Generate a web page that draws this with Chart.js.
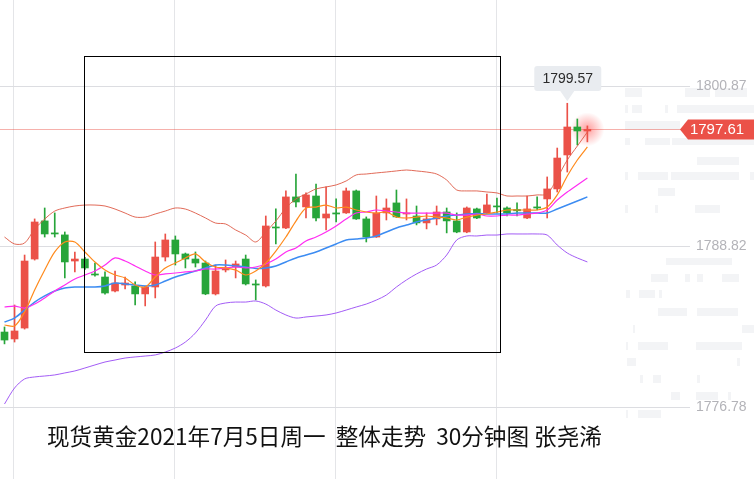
<!DOCTYPE html>
<html>
<head>
<meta charset="utf-8">
<script src="https://cdn.jsdelivr.net/npm/chart.js@4.4.1/dist/chart.umd.min.js"></script>
<style>
  html, body { margin: 0; padding: 0; background: #fff; }
  #wrap { position: relative; width: 754px; height: 479px; }
</style>
</head>
<body>
<div id="wrap"><canvas id="klineChart"></canvas></div>
<script>
// 30-minute gold candles
const opens  = [1782.40,1781.88,1782.70,1787.88,1790.74,1789.84,1789.69,1787.73,1787.88,1786.76,
                1786.53,1785.48,1785.93,1785.86,1785.26,1785.78,1788.03,1789.31,1788.26,1787.88,
                1787.58,1785.26,1787.06,1787.28,1787.88,1786.01,1785.86,1790.28,1790.21,1792.54,
                1791.79,1792.61,1790.96,1791.34,1791.34,1792.99,1790.89,1789.53,1791.34,1792.09,
                1791.26,1791.11,1790.59,1790.89,1791.41,1790.74,1789.91,1791.64,1791.34,1791.86,
                1791.71,1791.60,1790.96,1791.79,1792.39,1793.14,1795.69,1797.79,1797.49];
const highs  = [1782.78,1784.43,1788.18,1790.89,1791.71,1791.34,1789.91,1788.41,1788.00,1787.58,
                1786.91,1786.98,1786.53,1786.16,1785.85,1789.16,1789.76,1789.61,1788.33,1788.41,
                1787.73,1787.43,1787.81,1787.73,1788.18,1786.31,1791.11,1791.64,1792.99,1794.26,
                1792.84,1793.51,1793.29,1792.39,1793.21,1793.06,1791.04,1792.61,1792.39,1793.06,
                1792.39,1791.86,1791.34,1791.86,1791.71,1791.34,1791.79,1791.71,1792.76,1792.46,
                1791.79,1792.09,1792.61,1792.54,1794.04,1796.21,1799.57,1798.39,1797.87];
const lows   = [1781.51,1781.65,1782.62,1787.80,1789.53,1789.53,1786.46,1786.91,1787.10,1786.60,
                1785.25,1785.41,1785.63,1784.43,1784.36,1784.96,1787.73,1787.43,1787.21,1787.28,
                1785.20,1785.18,1786.91,1786.46,1785.93,1784.81,1785.78,1789.01,1790.15,1791.79,
                1790.96,1790.74,1790.06,1790.66,1791.30,1790.85,1789.16,1789.50,1790.81,1791.00,
                1790.81,1790.44,1790.14,1790.44,1789.84,1789.85,1789.85,1790.90,1791.30,1791.34,
                1791.11,1791.11,1790.90,1791.56,1790.96,1792.91,1794.41,1796.44,1796.67];
const closes = [1781.80,1782.48,1787.73,1790.66,1789.76,1789.76,1787.66,1787.88,1787.21,1786.68,
                1785.33,1786.08,1786.08,1785.26,1785.78,1788.03,1789.31,1788.26,1787.88,1787.58,
                1785.26,1786.98,1787.21,1787.51,1786.01,1785.93,1790.36,1790.21,1792.54,1792.16,
                1792.69,1790.96,1791.26,1791.26,1792.99,1790.89,1789.53,1791.34,1791.71,1791.04,
                1791.34,1790.59,1790.89,1791.41,1790.74,1789.91,1791.71,1790.96,1791.94,1791.79,
                1791.34,1791.50,1791.64,1791.71,1793.14,1795.46,1797.79,1797.49,1797.61];

// indicator lines
const bollUpper = [1789.53,1789.01,1789.08,1790.13,1790.88,1791.48,1791.71,1791.86,1791.93,1791.93,
                   1791.86,1791.63,1791.33,1791.03,1791.03,1791.26,1791.48,1791.71,1791.63,1791.33,
                   1790.96,1790.58,1790.51,1790.06,1789.68,1789.16,1789.91,1790.73,1791.71,1792.39,
                   1792.76,1793.14,1793.29,1793.44,1793.74,1794.19,1794.26,1794.34,1794.41,1794.49,
                   1794.56,1794.49,1794.41,1794.26,1793.81,1793.06,1792.99,1792.99,1792.91,1792.84,
                   1792.61,1792.61,1792.61,1792.69,1792.76,1793.96,1795.31,1796.36,1797.41];
const bollLower = [1777.00,1778.20,1778.88,1779.03,1779.10,1779.18,1779.33,1779.48,1779.70,1779.93,
                   1780.15,1780.30,1780.45,1780.53,1780.60,1780.68,1780.90,1781.20,1781.65,1782.33,
                   1783.30,1784.35,1784.58,1784.65,1784.65,1784.73,1784.50,1784.05,1783.68,1783.45,
                   1783.53,1783.60,1783.68,1783.83,1784.05,1784.28,1784.50,1784.80,1785.18,1785.78,
                   1786.31,1786.76,1787.13,1787.43,1788.18,1789.31,1789.61,1789.61,1789.68,1789.68,
                   1789.76,1789.76,1789.76,1789.76,1789.68,1788.93,1788.33,1787.96,1787.66];
const ma5  = [1782.93,1782.85,1783.90,1785.56,1787.06,1788.41,1789.16,1789.16,1788.41,1787.66,
              1787.06,1786.68,1786.46,1785.93,1785.78,1786.53,1787.21,1787.58,1787.96,1788.26,
              1787.66,1787.28,1787.21,1787.06,1786.68,1786.98,1787.58,1788.48,1789.53,1790.73,
              1791.71,1791.78,1791.93,1791.71,1791.78,1791.56,1791.41,1791.33,1791.41,1791.03,
              1790.96,1791.03,1791.11,1791.03,1790.96,1790.81,1791.03,1791.18,1791.26,1791.41,
              1791.56,1791.56,1791.56,1791.56,1791.78,1792.69,1794.11,1795.31,1796.29];
const ma10 = [1784.28,1784.35,1784.20,1784.50,1784.96,1785.48,1785.93,1786.38,1786.68,1786.98,
              1787.43,1787.96,1787.73,1787.36,1786.98,1786.68,1786.76,1786.83,1786.91,1786.98,
              1787.13,1787.13,1787.21,1787.28,1787.21,1787.28,1787.51,1787.88,1788.41,1788.71,
              1789.23,1789.53,1789.91,1790.36,1790.88,1791.33,1791.41,1791.56,1791.48,1791.41,
              1791.33,1791.33,1791.33,1791.33,1791.33,1791.18,1791.18,1791.26,1791.11,1791.11,
              1791.18,1791.18,1791.26,1791.33,1791.56,1792.31,1792.91,1793.44,1793.96];
const ma20 = [1783.15,1783.45,1784.05,1784.65,1785.11,1785.48,1785.71,1785.78,1785.78,1785.78,
              1785.86,1786.08,1786.01,1785.93,1785.86,1785.93,1786.23,1786.53,1786.76,1786.98,
              1787.21,1787.43,1787.43,1787.36,1787.28,1787.17,1787.21,1787.36,1787.66,1787.96,
              1788.18,1788.41,1788.71,1789.01,1789.31,1789.38,1789.46,1789.61,1789.91,1790.21,
              1790.43,1790.66,1790.81,1790.96,1791.11,1791.18,1791.26,1791.30,1791.26,1791.26,
              1791.26,1791.33,1791.33,1791.33,1791.33,1791.63,1791.93,1792.23,1792.54];

const priceTicks = [1776.78, 1788.82, 1800.87];
const lastPrice = 1797.61;
const peakIndex = 56;
const chartTitle = '现货黄金2021年7月5日周一  整体走势  30分钟图 张尧浠';

const RED = '#eb5148';
const GREEN = '#27a53a';

// faint watermark bars behind the price labels: [x, y, w, h]
const watermark = [
    [625,88,17,9],[685,88,25,9],[715,88,32,9],
    [625,105,3,8],[632,105,10,8],[665,105,3,8],[677,105,77,8],
    [625,121,55,9],
    [625,138,5,7],[645,138,25,7],[672,138,82,7],
    [697,157,42,8],
    [625,172,3,8],[638,172,30,8],[671,172,68,8],[750,172,4,8],
    [658,188,17,8],
    [625,205,3,8],[655,205,3,8],[695,205,25,8],
    [666,258,66,7],
    [651,274,17,8],[685,274,5,8],[697,274,6,8],[722,274,17,8],
    [626,290,4,8],[639,290,16,8],[659,290,3,8],
    [658,308,29,8],[697,308,41,8],
    [633,325,2,8],[742,325,12,8],
    [626,342,2,8],[638,342,30,8],[696,342,46,8],
    [627,358,9,8],[737,358,3,8],
    [640,375,3,8],[653,375,8,8],[697,375,3,8],
    [671,392,9,8],[696,392,22,8],[728,392,3,8],
    [626,410,2,8],[638,410,23,8]
];

const idx = closes.map((_, i) => i);
const candleColors = idx.map(i => closes[i] >= opens[i] ? RED : GREEN);

function lineSet(values, color, width) {
    return {
        type: 'line',
        data: values.map((v, i) => ({ x: i, y: v })),
        borderColor: color,
        borderWidth: width,
        pointRadius: 0,
        tension: 0.3,
        order: 0
    };
}

const decor = {
    id: 'decor',
    beforeDraw(chart) {
        const { ctx, scales: { x, y }, width } = chart;
        ctx.save();
        ctx.fillStyle = '#fff';
        ctx.fillRect(0, 0, width, chart.height);
        ctx.fillStyle = '#f3f4f6';
        watermark.forEach(r => ctx.fillRect(r[0], r[1], r[2], r[3]));
        // vertical grid
        ctx.strokeStyle = '#e4e5e8';
        ctx.lineWidth = 1;
        [0.88, 16.9, 32.92, 48.94].forEach(v => {
            const px = Math.round(x.getPixelForValue(v)) + 0.5;
            ctx.beginPath();
            ctx.moveTo(px, 0);
            ctx.lineTo(px, chart.height);
            ctx.stroke();
        });
        // horizontal grid + labels
        ctx.font = '14px "Liberation Sans", Arial, sans-serif';
        ctx.textBaseline = 'middle';
        ctx.textAlign = 'left';
        priceTicks.forEach(v => {
            const py = Math.round(y.getPixelForValue(v)) + 0.5;
            ctx.strokeStyle = '#dcdde1';
            ctx.beginPath();
            ctx.moveTo(0, py);
            ctx.lineTo(690, py);
            ctx.stroke();
            ctx.fillStyle = '#b3b3b8';
            ctx.fillText(v.toFixed(2), 696, py);
        });
        // last price line
        const ly = Math.round(y.getPixelForValue(lastPrice)) + 0.5;
        ctx.strokeStyle = 'rgba(235,81,72,0.45)';
        ctx.beginPath();
        ctx.moveTo(0, ly);
        ctx.lineTo(684, ly);
        ctx.stroke();
        ctx.restore();
    },
    beforeDatasetsDraw(chart) {
        const { ctx, scales: { x, y } } = chart;
        const last = closes.length - 1;
        const gx = x.getPixelForValue(last), gy = y.getPixelForValue(closes[last]);
        const g = ctx.createRadialGradient(gx, gy, 0, gx, gy, 17);
        g.addColorStop(0, 'rgba(255,40,40,0.45)');
        g.addColorStop(1, 'rgba(255,40,40,0)');
        ctx.save();
        ctx.fillStyle = g;
        ctx.beginPath();
        ctx.arc(gx, gy, 17, 0, Math.PI * 2);
        ctx.fill();
        ctx.restore();
    },
    afterDatasetsDraw(chart) {
        const { ctx, scales: { x, y } } = chart;
        ctx.save();
        // framed zone
        ctx.strokeStyle = '#000';
        ctx.lineWidth = 1;
        ctx.strokeRect(84.5, 56.5, 416, 296);

        // peak bubble
        const px = x.getPixelForValue(peakIndex);
        const py = y.getPixelForValue(highs[peakIndex]);
        ctx.fillStyle = '#e9ecf0';
        ctx.beginPath();
        ctx.roundRect(px - 33, 66, 67, 25, 3);
        ctx.fill();
        ctx.beginPath();
        ctx.moveTo(px - 7, 91);
        ctx.lineTo(px + 7, 91);
        ctx.lineTo(px, py - 2);
        ctx.closePath();
        ctx.fill();
        ctx.fillStyle = '#2b2b2b';
        ctx.font = '14px "Liberation Sans", Arial, sans-serif';
        ctx.textAlign = 'center';
        ctx.textBaseline = 'middle';
        ctx.fillText(highs[peakIndex].toFixed(2), px + 0.5, 79);

        // last price tag
        const ly = y.getPixelForValue(lastPrice);
        ctx.fillStyle = RED;
        ctx.beginPath();
        ctx.moveTo(680, ly);
        ctx.lineTo(688, ly - 10);
        ctx.lineTo(754, ly - 10);
        ctx.lineTo(754, ly + 10);
        ctx.lineTo(688, ly + 10);
        ctx.closePath();
        ctx.fill();
        ctx.fillStyle = '#fff';
        ctx.font = '15px "Liberation Sans", Arial, sans-serif';
        ctx.fillText(lastPrice.toFixed(2), 717, ly + 0.5);

        // caption
        ctx.fillStyle = '#111';
        ctx.textAlign = 'left';
        ctx.font = '22.6px "Noto Sans CJK SC", sans-serif';
        ctx.fillText(chartTitle, 47, 436);
        ctx.restore();
    }
};

new Chart(document.getElementById('klineChart'), {
    type: 'bar',
    data: {
        datasets: [
            lineSet(bollUpper, 'rgba(222,90,70,0.9)', 1),
            lineSet(bollLower, '#a35cf6', 1),
            lineSet(ma5, '#ff8a1c', 1.2),
            lineSet(ma10, '#ff2df2', 1.2),
            lineSet(ma20, '#3c8cf2', 1.5),
            {
                data: idx.map(i => ({ x: i, y: [lows[i], highs[i]] })),
                backgroundColor: candleColors,
                barThickness: 1,
                order: 2
            },
            {
                data: idx.map(i => ({ x: i, y: [opens[i], closes[i]] })),
                backgroundColor: candleColors,
                barThickness: 7,
                minBarLength: 1,
                order: 1
            }
        ]
    },
    options: {
        responsive: true,
        maintainAspectRatio: false,
        animation: false,
        layout: { padding: 0 },
        datasets: { bar: { grouped: false } },
        plugins: { legend: { display: false }, tooltip: { enabled: false } },
        scales: {
            x: { type: 'linear', min: -0.448, max: 74.58, offset: false, display: false },
            y: { min: 1771.37, max: 1807.32, display: false }
        }
    },
    plugins: [decor]
});
</script>
</body>
</html>
